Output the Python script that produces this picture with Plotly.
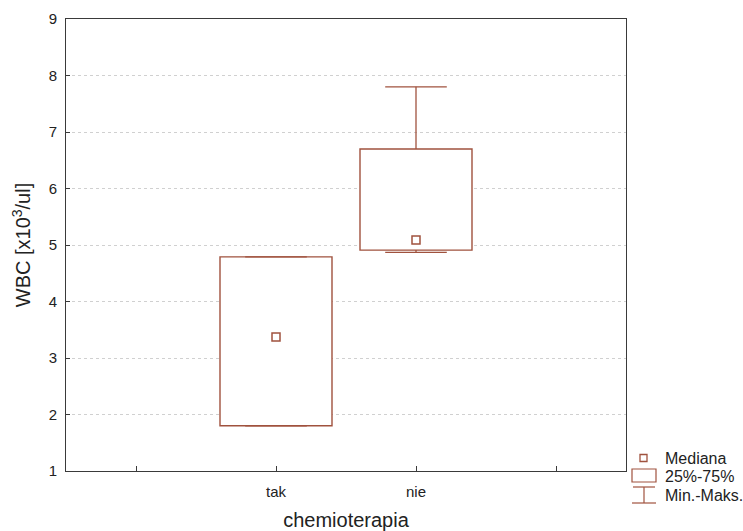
import plotly.graph_objects as go

categories = ["tak", "nie"]
cat_pos = [2, 3]
q1 = [1.80, 4.91]
q3 = [4.79, 6.70]
median = [3.37, 5.09]
vmin = [1.80, 4.87]
vmax = [4.79, 7.80]

BROWN = "#A0523E"
FRAME = "#3a3a3a"
FONT = "Liberation Sans, Arial, sans-serif"

fig = go.Figure()

# boxes (25%-75%)
fig.add_trace(go.Bar(
    x=cat_pos, base=q1, y=[b - a for a, b in zip(q1, q3)], width=0.8,
    marker=dict(color="white", line=dict(color=BROWN, width=1.4)),
    showlegend=False, hoverinfo="skip"))

# whiskers
cap = 0.22
wx, wy = [], []
for x, lo, hi, mn, mx in zip(cat_pos, q1, q3, vmin, vmax):
    wx += [x, x, None, x - cap, x + cap, None, x, x, None, x - cap, x + cap, None]
    wy += [hi, mx, None, mx, mx, None, lo, mn, None, mn, mn, None]
fig.add_trace(go.Scatter(x=wx, y=wy, mode="lines",
                         line=dict(color=BROWN, width=1.3),
                         showlegend=False, hoverinfo="skip"))

# medians
fig.add_trace(go.Scatter(x=cat_pos, y=median, mode="markers",
                         marker=dict(symbol="square-open", size=8,
                                     color=BROWN, line=dict(width=1.5)),
                         showlegend=False, hoverinfo="skip"))

# custom legend (paper coordinates)
L, T, W, H = 66, 19, 560, 452
def px(x):
    return (x - L) / W
def py(y):
    return (T + H - y) / H

shapes = [
    dict(type="rect", xref="paper", yref="paper", x0=px(640), x1=px(647),
         y0=py(461.5), y1=py(454.5), line=dict(color=BROWN, width=1.3)),
    dict(type="rect", xref="paper", yref="paper", x0=px(632), x1=px(656),
         y0=py(482), y1=py(469), line=dict(color=BROWN, width=1.2)),
    dict(type="line", xref="paper", yref="paper", x0=px(633), x1=px(655),
         y0=py(487), y1=py(487), line=dict(color=BROWN, width=1.2)),
    dict(type="line", xref="paper", yref="paper", x0=px(644), x1=px(644),
         y0=py(487), y1=py(503), line=dict(color=BROWN, width=1.2)),
    dict(type="line", xref="paper", yref="paper", x0=px(632), x1=px(656),
         y0=py(503), y1=py(503), line=dict(color=BROWN, width=1.2)),
]
annots = []
for txt, yy in [("Mediana", 458), ("25%-75%", 476), ("Min.-Maks.", 496)]:
    annots.append(dict(text=txt, xref="paper", yref="paper", x=px(663), y=py(yy),
                       xanchor="left", yanchor="middle", showarrow=False,
                       font=dict(size=16, color="#222", family=FONT)))

fig.update_layout(
    width=743, height=531,
    margin=dict(l=L, r=743 - L - W, t=T, b=531 - T - H),
    paper_bgcolor="white", plot_bgcolor="white",
    font=dict(family=FONT, size=15, color="#222"),
    shapes=shapes, annotations=annots, showlegend=False,
    xaxis=dict(range=[0.5, 4.5], tickvals=[1, 2, 3, 4],
               ticktext=["", categories[0], categories[1], ""],
               ticks="inside", ticklen=5, tickcolor=FRAME,
               showline=True, linecolor=FRAME, linewidth=1, mirror=True,
               showgrid=False, zeroline=False, ticklabelstandoff=7,
               automargin=False,
               title=dict(text="chemioterapia", font=dict(size=20), standoff=14)),
    yaxis=dict(range=[1, 9], tickvals=list(range(1, 10)),
               showline=True, linecolor=FRAME, linewidth=1, mirror=True,
               showgrid=True, gridcolor="#d0d0d0", griddash="dot", gridwidth=1,
               zeroline=False, ticks="inside", ticklen=4, tickcolor=FRAME,
               ticklabelstandoff=5, automargin=False,
               title=dict(text="WBC [x10<sup>3</sup>/ul]", font=dict(size=20), standoff=12)),
)

fig.write_html("out.html")
